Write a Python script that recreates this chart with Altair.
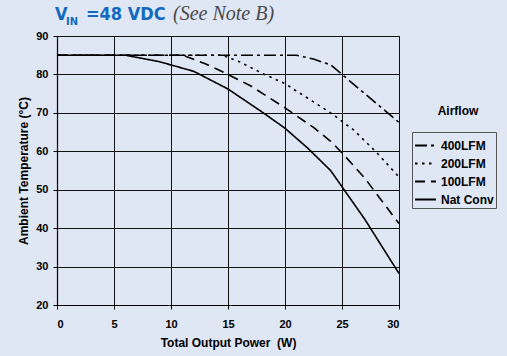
import altair as alt
import pandas as pd

# Derating curves: ambient temperature limit vs. total output power
series_order = ["400LFM", "200LFM", "100LFM", "Nat Conv"]

power_400 = [0, 21, 22.5, 24, 25, 30]
temp_400 = [85, 85, 84, 82.5, 80, 67.5]

power_200 = [0, 14.5, 16, 18, 20, 22, 24, 26, 28, 30]
temp_200 = [85, 85, 83.3, 80.3, 77.6, 73.8, 70, 65.6, 59.8, 53.3]

power_100 = [0, 11, 13, 15, 17, 20, 22.5, 24, 25, 27, 30]
temp_100 = [85, 85, 82.8, 80, 77, 71.3, 66.2, 62.6, 59.6, 53, 41.2]

power_nat = [0, 6, 9, 12, 15, 18, 20, 22, 24, 27, 30]
temp_nat = [85, 85, 83.3, 80.8, 76.2, 70.2, 66, 60.8, 55, 42.3, 28.2]

dash_styles = [[12, 4, 3, 4], [2.5, 4.5], [10, 6], [1, 0]]

frames = []
for name, p, t in zip(series_order,
                      [power_400, power_200, power_100, power_nat],
                      [temp_400, temp_200, temp_100, temp_nat]):
    frames.append(pd.DataFrame({"power": p, "temp": t, "airflow": name}))
curves = pd.concat(frames, ignore_index=True)

BG = "#DFE6F4"
INK = "#000000"
BLUE = "#1369BE"
SANS = "Liberation Sans, Arial, Helvetica, sans-serif"
COND = "DejaVu Sans Condensed, DejaVu Sans, sans-serif"

lines = alt.Chart(curves).mark_line(color=INK, strokeWidth=1.6, clip=True).encode(
    x=alt.X("power:Q",
            scale=alt.Scale(domain=[0, 30], nice=False, zero=False),
            axis=alt.Axis(values=[0, 5, 10, 15, 20, 25, 30],
                          title="Total Output Power\u00a0 (W)",
                          labelPadding=9, titlePadding=8)),
    y=alt.Y("temp:Q",
            scale=alt.Scale(domain=[20, 90], nice=False, zero=False),
            axis=alt.Axis(values=[20, 30, 40, 50, 60, 70, 80, 90],
                          title="Ambient Temperature (°C)",
                          labelPadding=5, titlePadding=5)),
    strokeDash=alt.StrokeDash(
        "airflow:N",
        scale=alt.Scale(domain=series_order, range=dash_styles),
        sort=series_order,
        legend=alt.Legend(
            orient="none", legendX=355, legendY=96, title=None,
            strokeColor="#555555", fillColor=BG, padding=2, cornerRadius=0,
            symbolType="stroke", symbolSize=440, symbolStrokeWidth=1.8,
            symbolStrokeColor=INK, labelFont=SANS, labelFontWeight="bold",
            labelFontSize=12, labelColor=INK, labelOffset=4, rowPadding=0,
        ),
    ),
    order=alt.Order("power:Q"),
)

one = pd.DataFrame({"k": [0]})


def label(text, x, y, size, color, font, weight="bold", style="normal", align="left"):
    return alt.Chart(one).mark_text(
        text=text, align=align, baseline="alphabetic", fontSize=size, color=color,
        font=font, fontWeight=weight, fontStyle=style,
    ).encode(x=alt.value(x), y=alt.value(y))


heading = [
    label("V", -2, -16, 18, BLUE, COND),
    label("IN", 9, -11, 11, BLUE, COND),
    label("=48 VDC", 29, -16, 18, BLUE, COND),
    label("(See Note B)", 116, -16.5, 20, "#4A4A4A", "Liberation Serif, Times New Roman, serif",
          weight="normal", style="italic"),
    label("Airflow", 401, 78.5, 12, INK, SANS, align="center"),
]

chart = alt.layer(lines, *heading).properties(
    width=342, height=269,
    background=BG,
    autosize=alt.AutoSizeParams(type="none"),
    padding={"left": 57, "top": 36, "right": 108, "bottom": 51},
).configure_view(
    stroke=INK, strokeWidth=1, fill=BG,
).configure_axis(
    grid=True, gridColor="#111111", gridWidth=1, gridOpacity=1,
    domainColor=INK, domainWidth=1.2, tickColor=INK, tickSize=4,
    labelFont=SANS, labelFontWeight="bold", labelFontSize=11, labelColor=INK,
    titleFont=SANS, titleFontWeight="bold", titleFontSize=12, titleColor=INK,
)

chart.save("out.html", embed_options={"renderer": "svg", "actions": False})
